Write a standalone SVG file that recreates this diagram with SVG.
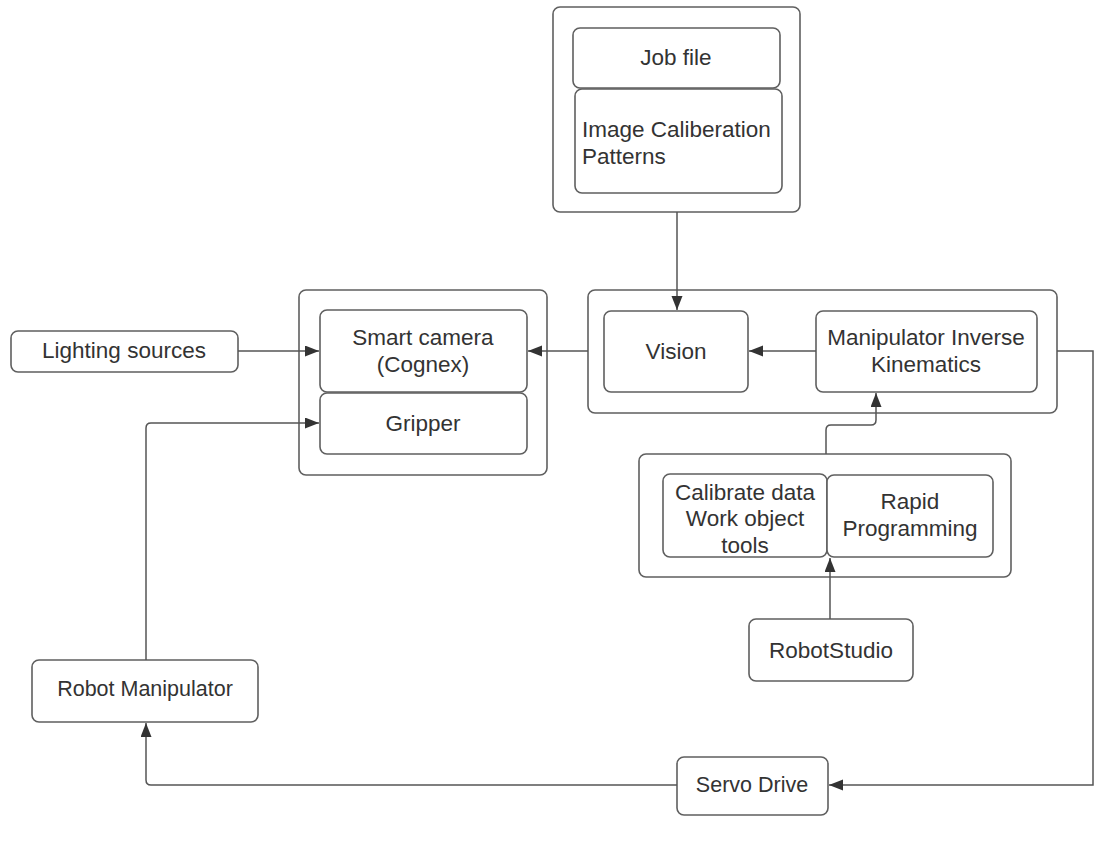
<svg xmlns="http://www.w3.org/2000/svg" width="1094" height="844" viewBox="0 0 1094 844">
<defs>
<style>
.box{fill:#fff;stroke:#5f5f5f;stroke-width:1.6}
.t{font-family:"Liberation Sans",Arial,sans-serif;font-size:22.5px;fill:#333;text-anchor:middle;dominant-baseline:central}
.tl{font-family:"Liberation Sans",Arial,sans-serif;font-size:22.5px;fill:#333;dominant-baseline:central}
.c{fill:none;stroke:#555;stroke-width:1.5}
</style>
<marker id="ah" markerWidth="15" markerHeight="12" refX="14" refY="5.5" orient="auto" markerUnits="userSpaceOnUse">
<path d="M0,0 L14,5.5 L0,11 z" fill="#333"/>
</marker>
</defs>
<rect width="1094" height="844" fill="#fff"/>

<g id="top-group">
<rect class="box" x="553" y="7" width="247" height="205" rx="7"/>
<g id="job-file"><rect class="box" x="573" y="28" width="207" height="60" rx="7"/><text class="t" x="676" y="57">Job file</text></g>
<g id="image-calib"><rect class="box" x="575" y="89" width="207" height="104" rx="7"/><text class="tl" x="582" y="129">Image Caliberation</text><text class="tl" x="582" y="156">Patterns</text></g>
</g>

<g id="left-group">
<rect class="box" x="299" y="290" width="248" height="185" rx="7"/>
<g id="smart-camera"><rect class="box" x="320" y="310" width="207" height="82" rx="7"/><text class="t" x="423" y="337">Smart camera</text><text class="t" x="423" y="364">(Cognex)</text></g>
<g id="gripper"><rect class="box" x="320" y="393" width="207" height="61" rx="7"/><text class="t" x="423" y="423">Gripper</text></g>
</g>

<g id="lighting"><rect class="box" x="11" y="331" width="227" height="41" rx="7"/><text class="t" x="124" y="350">Lighting sources</text></g>

<g id="middle-group">
<rect class="box" x="588" y="290" width="469" height="123" rx="7"/>
<g id="vision"><rect class="box" x="604" y="311" width="144" height="81" rx="7"/><text class="t" x="676" y="351">Vision</text></g>
<g id="mik"><rect class="box" x="816" y="311" width="221" height="81" rx="7"/><text class="t" x="926" y="337">Manipulator Inverse</text><text class="t" x="926" y="364">Kinematics</text></g>
</g>

<g id="calib-group">
<rect class="box" x="639" y="454" width="372" height="123" rx="7"/>
<g id="calibrate"><rect class="box" x="663" y="474" width="164" height="83" rx="7"/><text class="t" x="745" y="492">Calibrate data</text><text class="t" x="745" y="518">Work object</text><text class="t" x="745" y="545">tools</text></g>
<g id="rapid"><rect class="box" x="827" y="475" width="166" height="82" rx="7"/><text class="t" x="910" y="501">Rapid</text><text class="t" x="910" y="528">Programming</text></g>
</g>

<g id="robotstudio"><rect class="box" x="749" y="619" width="164" height="62" rx="7"/><text class="t" x="831" y="650">RobotStudio</text></g>

<g id="robot-manipulator"><rect class="box" x="32" y="660" width="226" height="62" rx="7"/><text class="t" x="145" y="689" style="font-size:21.5px">Robot Manipulator</text></g>

<g id="servo-drive"><rect class="box" x="677" y="757" width="151" height="58" rx="7"/><text class="t" x="752" y="785" style="font-size:21.5px">Servo Drive</text></g>

<g id="connectors">
<path class="c" d="M677,212 V310" marker-end="url(#ah)"/>
<path class="c" d="M816,351 H749" marker-end="url(#ah)"/>
<path class="c" d="M588,351 H528" marker-end="url(#ah)"/>
<path class="c" d="M238,351 H319" marker-end="url(#ah)"/>
<path class="c" d="M146,660 V428 Q146,423 151,423 H319" marker-end="url(#ah)"/>
<path class="c" d="M826,454 V430 Q826,425 831,425 H871 Q876,425 876,420 V393" marker-end="url(#ah)"/>
<path class="c" d="M830,619 V558" marker-end="url(#ah)"/>
<path class="c" d="M1057,351 H1093 V785 H829" marker-end="url(#ah)"/>
<path class="c" d="M677,785 H151 Q146,785 146,780 V723" marker-end="url(#ah)"/>
</g>
</svg>
